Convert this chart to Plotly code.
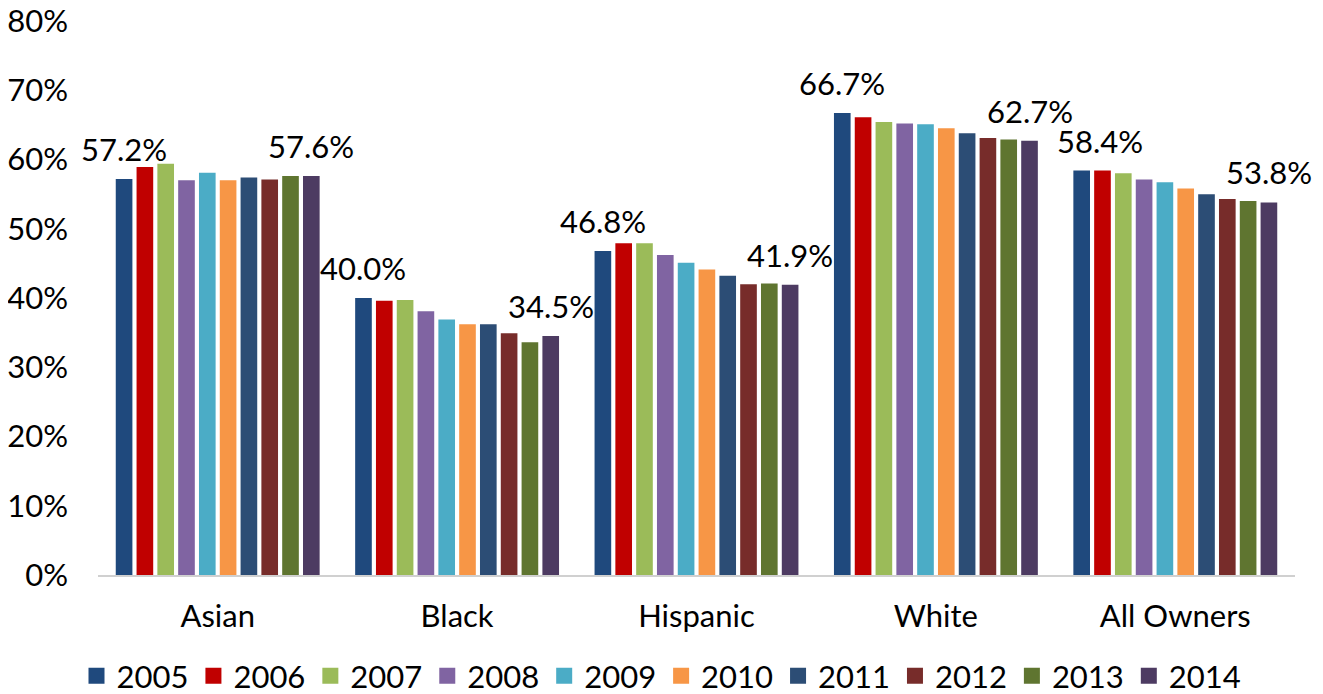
import plotly.graph_objects as go

categories = ["Asian", "Black", "Hispanic", "White", "All Owners"]
years = ["2005", "2006", "2007", "2008", "2009", "2010", "2011", "2012", "2013", "2014"]
colors = ["#1F497D", "#C00000", "#9BBB59", "#8064A2", "#4BACC6",
          "#F79646", "#2C4D75", "#772C2A", "#5F7530", "#4D3B62"]
tick_values = [0, 10, 20, 30, 40, 50, 60, 70, 80]

v2005 = [57.2, 40.0, 46.8, 66.7, 58.4]
v2006 = [58.9, 39.6, 47.9, 66.1, 58.4]
v2007 = [59.4, 39.7, 47.9, 65.4, 58.0]
v2008 = [57.0, 38.1, 46.2, 65.2, 57.1]
v2009 = [58.1, 36.9, 45.1, 65.1, 56.7]
v2010 = [57.0, 36.2, 44.1, 64.5, 55.8]
v2011 = [57.4, 36.2, 43.2, 63.8, 55.0]
v2012 = [57.1, 34.9, 42.0, 63.1, 54.3]
v2013 = [57.6, 33.6, 42.1, 62.9, 54.0]
v2014 = [57.6, 34.5, 41.9, 62.7, 53.8]

series = [v2005, v2006, v2007, v2008, v2009, v2010, v2011, v2012, v2013, v2014]
labelled_years = ["2005", "2014"]

FONT = "Lato"
W, H = 1323, 694
# the page is shown with an 8px body margin, so figure coords = screen - 8
ML, MR, MT, MB = 90, 36, 13, 127
BARGAP, GROUPGAP = 0.131, 0.2
label_nudge = {("All Owners", "2005"): 18}

fig = go.Figure()
for yr, vals, col in zip(years, series, colors):
    fig.add_trace(go.Bar(
        name=yr, x=categories, y=vals,
        marker=dict(color=col, line=dict(width=0)),
        showlegend=False, hoverinfo="x+y+name",
    ))
    # legend-only entry with a larger square swatch
    fig.add_trace(go.Scatter(
        name=yr, x=[None], y=[None], mode="markers",
        marker=dict(symbol="square", size=17, color=col),
        showlegend=True, hoverinfo="skip",
    ))

# value labels above the first and last bar of each group
plot_w = W - ML - MR
group_w = plot_w / len(categories)
slot_w = group_w * (1 - BARGAP) / len(years)
for yr in labelled_years:
    i = years.index(yr)
    offset = (i - (len(years) - 1) / 2) * slot_w
    for cat, v in zip(categories, series[i]):
        fig.add_annotation(
            x=cat, y=v, text=f"{v:.1f}%", showarrow=False,
            xanchor="center", yanchor="bottom",
            xshift=offset + label_nudge.get((cat, yr), 0), yshift=9,
            font=dict(size=31, family=FONT, color="#000000"),
        )

fig.update_layout(
    barmode="group", bargap=BARGAP, bargroupgap=GROUPGAP,
    width=W, height=H,
    margin=dict(l=ML, r=MR, t=MT, b=MB, autoexpand=False),
    paper_bgcolor="white", plot_bgcolor="white",
    font=dict(family=FONT, size=31, color="#000000"),
    showlegend=True,
    legend=dict(orientation="h", xref="container", x=0.5 - 8 / W, xanchor="center",
                yref="container", y=(H - 668) / H, yanchor="middle",
                font=dict(size=31, family=FONT), itemwidth=30,
                traceorder="normal", bgcolor="rgba(0,0,0,0)"),
    yaxis=dict(range=[0, 80], tickmode="array", tickvals=tick_values,
               ticktext=[f"{t}%" for t in tick_values], showgrid=False,
               zeroline=False, showline=False, ticks="", automargin=False,
               ticklabeloverflow="allow",
               ticklabelstandoff=29, tickfont=dict(size=31, family=FONT)),
    xaxis=dict(range=[-0.5, len(categories) - 0.5], showline=True,
               linecolor="#D0D0D0", linewidth=2, ticks="",
               automargin=False, ticklabelstandoff=13,
               tickfont=dict(size=31, family=FONT)),
)

fig.write_html("out.html")
